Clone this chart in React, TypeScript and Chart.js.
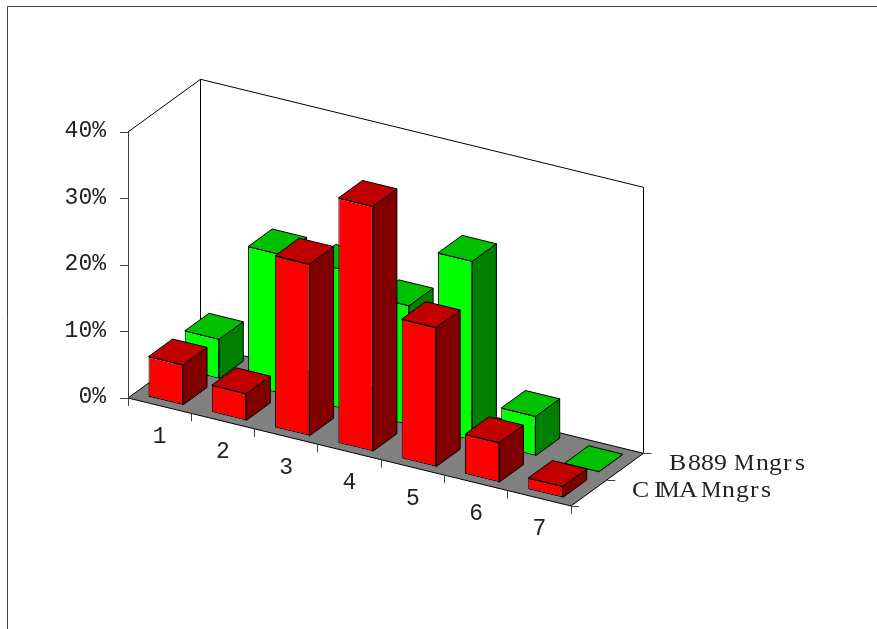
import React, { useEffect, useRef } from "react";
import { Chart, registerables } from "chart.js";

Chart.register(...registerables);

const categories = ["1", "2", "3", "4", "5", "6", "7"];
const b889Label = "B889 Mngrs";
const cimaLabel = "CIMA Mngrs";
const b889Values = [6, 21, 21, 18, 27, 6, 0];
const cimaValues = [6.1, 4.1, 25.9, 36.9, 21, 6, 1.75];
const yTicks = [0, 10, 20, 30, 40];

const W = 877;
const H = 629;
const SLOPE = 0.2438; // floor slope along the category axis
const DEPTH_X = 72.5; // full floor depth vector
const DEPTH_Y = -52.7;
const BAR_DEPTH = 0.333; // fraction of floor depth a bar takes
const AXIS_FONT = "23px 'Liberation Mono'";
const LEGEND_FONT = "23px 'Liberation Serif'";
const LABEL_COLOR = "#222";
const AXIS_COLOR = "#404040";
const faces = [
  { front: "#00ff00", top: "#00c000", side: "#008000" },
  { front: "#ff0000", top: "#c00000", side: "#800000" },
];
// dataset index -> position in depth, 0.25 is front row centre
const rowCentre = [0.75, 0.25];
const legendOffsets = [
  [0, 19, 32, 45, 0, 65, 87, 100, 114, 126],
  [0, 22, 27, 47, 0, 69, 90, 104, 118, 129],
];
const legendLefts = [669, 632];
const legendBaselines = [470, 497];
const GLYPH_STRETCH = 1.12;

const threeD = {
  id: "threeD",
  beforeDraw(chart: any) {
    const { ctx, chartArea: a } = chart;
    const base = a.bottom;
    const fy = (x: number) => base + (x - a.left) * SLOPE;
    ctx.save();
    // outer frame
    ctx.strokeStyle = AXIS_COLOR;
    ctx.lineWidth = 1;
    ctx.beginPath();
    ctx.moveTo(7.5, H + 2);
    ctx.lineTo(7.5, 6.5);
    ctx.lineTo(W + 2, 6.5);
    ctx.stroke();
    // floor
    ctx.beginPath();
    ctx.moveTo(a.left, base);
    ctx.lineTo(a.right, fy(a.right));
    ctx.lineTo(a.right + DEPTH_X, fy(a.right) + DEPTH_Y);
    ctx.lineTo(a.left + DEPTH_X, base + DEPTH_Y);
    ctx.closePath();
    ctx.fillStyle = "#808080";
    ctx.fill();
    ctx.strokeStyle = "#000";
    ctx.stroke();
    // walls
    const topY = a.top;
    ctx.beginPath();
    ctx.moveTo(a.left, topY);
    ctx.lineTo(a.left + DEPTH_X, topY + DEPTH_Y);
    ctx.lineTo(a.left + DEPTH_X, base + DEPTH_Y);
    ctx.moveTo(a.left + DEPTH_X, topY + DEPTH_Y);
    ctx.lineTo(a.right + DEPTH_X, topY + DEPTH_Y + (a.right - a.left) * SLOPE);
    ctx.lineTo(a.right + DEPTH_X, fy(a.right) + DEPTH_Y);
    ctx.stroke();
    // category ticks and labels
    const xs = chart.scales.x;
    const ys = chart.scales.y;
    ctx.strokeStyle = AXIS_COLOR;
    ctx.beginPath();
    const step = (a.right - a.left) / categories.length;
    for (let i = 0; i <= categories.length; i++) {
      const x = a.left + i * step;
      ctx.moveTo(Math.floor(x) + 0.5, fy(x));
      ctx.lineTo(Math.floor(x) + 0.5, fy(x) + 8);
    }
    // depth ticks
    for (const t of [0, 0.5, 1]) {
      const x = a.right + DEPTH_X * t;
      const y = Math.round(fy(a.right) + DEPTH_Y * t) + 0.5;
      ctx.moveTo(x, y);
      ctx.lineTo(x + 8, y);
    }
    ctx.stroke();
    ctx.fillStyle = LABEL_COLOR;
    ctx.font = AXIS_FONT;
    ctx.textAlign = "center";
    ctx.textBaseline = "middle";
    categories.forEach((c, i) => {
      const x = xs.getPixelForValue(i);
      ctx.fillText(c, x, fy(x) + 31);
    });
    // value-axis labels
    ctx.textAlign = "right";
    ys.ticks.forEach((t: any) => {
      ctx.fillText(`${t.value}%`, a.left - 22, ys.getPixelForValue(t.value) - 1);
    });
    // depth-axis series names
    ctx.font = LEGEND_FONT;
    ctx.textAlign = "left";
    ctx.textBaseline = "alphabetic";
    [b889Label, cimaLabel].forEach((label, k) => {
      [...label].forEach((ch, i) => {
        ctx.save();
        ctx.translate(legendLefts[k] + legendOffsets[k][i], legendBaselines[k]);
        if (ch !== "M") ctx.scale(GLYPH_STRETCH, 1);
        ctx.fillText(ch, 0, 0);
        ctx.restore();
      });
    });
    ctx.restore();
  },
  beforeDatasetDraw(chart: any, args: any) {
    const { ctx, chartArea: a } = chart;
    const c = rowCentre[args.index];
    const off = c - BAR_DEPTH / 2;
    ctx.save();
    ctx.transform(
      1,
      SLOPE,
      0,
      1,
      DEPTH_X * off,
      DEPTH_Y * off - SLOPE * a.left
    );
  },
  afterDatasetDraw(chart: any, args: any) {
    const { ctx, chartArea: a } = chart;
    ctx.restore();
    const c = rowCentre[args.index];
    const off = c - BAR_DEPTH / 2;
    const dx = DEPTH_X * off;
    const dy = DEPTH_Y * off;
    const bx = DEPTH_X * BAR_DEPTH;
    const by = DEPTH_Y * BAR_DEPTH;
    const col = faces[args.index];
    const P = (x: number, y: number) => [
      x + dx,
      y + SLOPE * (x - a.left) + dy,
    ];
    const poly = (pts: number[][], fill: string) => {
      ctx.beginPath();
      pts.forEach((p, i) => (i ? ctx.lineTo(p[0], p[1]) : ctx.moveTo(p[0], p[1])));
      ctx.closePath();
      ctx.fillStyle = fill;
      ctx.fill();
      ctx.stroke();
    };
    ctx.save();
    ctx.strokeStyle = "#000";
    ctx.lineWidth = 1;
    ctx.lineJoin = "round";
    args.meta.data.forEach((bar: any) => {
      const { x, y, base, width } = bar.getProps(["x", "y", "base", "width"], true);
      const tl = P(x - width / 2, y);
      const tr = P(x + width / 2, y);
      const br = P(x + width / 2, base);
      const shift = (p: number[]) => [p[0] + bx, p[1] + by];
      poly([tr, shift(tr), shift(br), br], col.side);
      poly([tl, tr, shift(tr), shift(tl)], col.top);
    });
    ctx.restore();
  },
};

export default function App() {
  const ref = useRef<HTMLCanvasElement>(null);
  useEffect(() => {
    const chart = new Chart(ref.current!, {
      type: "bar",
      data: {
        labels: categories,
        datasets: [
          {
            label: b889Label,
            data: b889Values,
            backgroundColor: faces[0].front,
            borderColor: "#000",
            borderWidth: 1,
            borderSkipped: false,
            order: 1,
            clip: false,
          },
          {
            label: cimaLabel,
            data: cimaValues,
            backgroundColor: faces[1].front,
            borderColor: "#000",
            borderWidth: 1,
            borderSkipped: false,
            order: 0,
            clip: false,
          },
        ],
      } as any,
      options: {
        responsive: false,
        animation: false,
        devicePixelRatio: 1,
        layout: { padding: { left: 0, top: 132, right: W - 571, bottom: H - 398 } },
        plugins: { legend: { display: false }, title: { display: false }, tooltip: { enabled: false } },
        datasets: { bar: { grouped: false, barPercentage: 0.543, categoryPercentage: 1 } },
        scales: {
          x: { display: false },
          y: {
            min: yTicks[0],
            max: yTicks[yTicks.length - 1],
            afterFit: (s: any) => {
              s.width = 128;
            },
            afterBuildTicks: (s: any) => {
              s.ticks = yTicks.map((value) => ({ value }));
            },
            border: { display: true, color: AXIS_COLOR, width: 1 },
            grid: { drawOnChartArea: false, drawTicks: true, tickLength: 8, color: AXIS_COLOR },
            ticks: { display: false },
          },
        },
      } as any,
      plugins: [threeD],
    });
    return () => chart.destroy();
  }, []);
  return (
    <canvas
      ref={ref}
      width={W}
      height={H}
      style={{ position: "absolute", left: 0, top: 0, display: "block" }}
    />
  );
}
